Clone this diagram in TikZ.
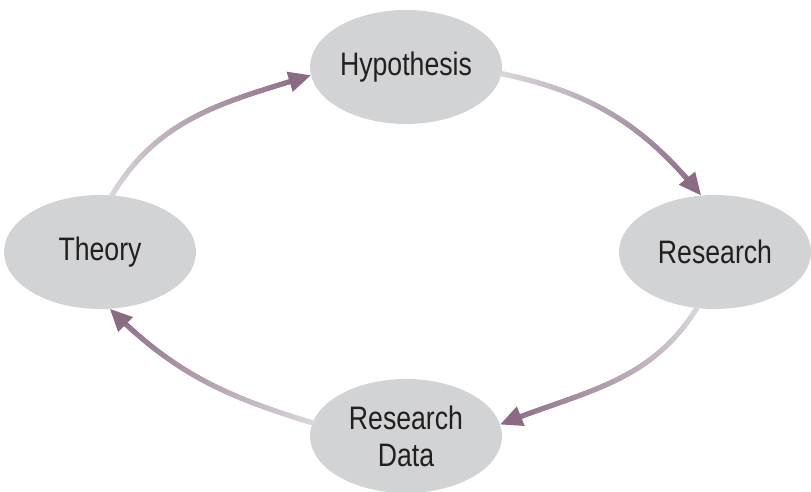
\documentclass[tikz,border=0pt]{standalone}
\usepackage{fontspec}
\newfontfamily\cyclefont[FakeStretch=0.82]{Liberation Sans}
\usetikzlibrary{shapes.geometric,decorations.markings}
\definecolor{bubble}{HTML}{D1D3D4}
\definecolor{ink}{HTML}{231F20}
\definecolor{arrowhue}{HTML}{8B6A84}
\definecolor{arrowpale}{HTML}{DAD7DB}
\tikzset{
  phase/.style={ellipse,fill=bubble,minimum width=3.84cm,minimum height=2.28cm,inner sep=0pt,
    align=center,text=ink,font=\cyclefont\fontsize{18.5}{21}\selectfont},
  flow/.style={
    postaction={decorate,decoration={markings,
      mark=between positions 0 and -9pt step 0.5pt with {
        \pgfmathsetmacro\huepct{100*\pgfkeysvalueof{/pgf/decoration/mark info/distance from start}/\pgfdecoratedpathlength}
        \fill[arrowhue!\huepct!arrowpale] (0,0) circle (1.5pt);}}},
    postaction={decorate,decoration={markings,
      mark=at position 0.999 with {\fill[arrowhue] (0.1pt,0) -- (-12.4pt,6pt) -- (-12.4pt,-6pt) -- cycle;}}}}
}
\begin{document}
\begin{tikzpicture}[x=0.02cm,y=0.02cm]
          \useasboundingbox (0,0) rectangle (811,492);
          \node[phase] (hyp) at (406,425) {Hypothesis};
          \node[phase] (res) at (715,240) {Research};
          \node[phase] (data) at (406,56) {Research\\Data};
          \node[phase] (theory) at (100,240) {Theory};
          \path[flow] (theory.78) to[out=59,in=197] (hyp.185);
          \path[flow] (hyp.356) to[out=-12,in=129] (res.104);
          \path[flow] (res.252) to[out=238,in=22] (data.7);
          \path[flow] (data.172) to[out=163,in=-45] (theory.280);
        \end{tikzpicture}
\end{document}
